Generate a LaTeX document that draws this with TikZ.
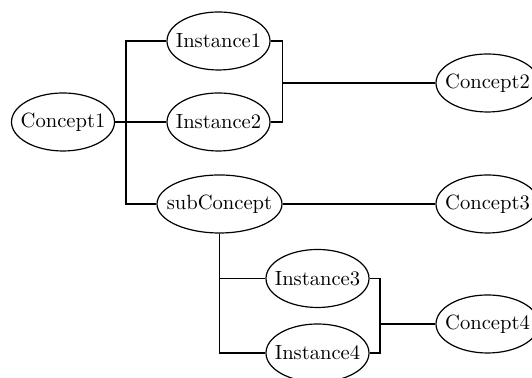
\documentclass[tikz,border=0pt]{standalone}
\usetikzlibrary{shapes.geometric}

\begin{document}
\begin{tikzpicture}[x=0.5pt, y=0.5pt, line width=0.6pt,
    onto/.style={draw, ellipse, inner sep=0pt, minimum width=51.5pt, minimum height=29pt,
      font=\fontsize{10.3}{12}\selectfont},
    wide/.style={onto, minimum width=62.5pt}]
  \useasboundingbox (0,0) rectangle (532,378);

  \node[onto] (c1) at (63, 256)      {\makebox[0pt]{Concept1}};
  \node[onto] (i1) at (218.5, 337)   {\makebox[0pt]{Instance1}};
  \node[onto] (i2) at (218.5, 256)   {\makebox[0pt]{Instance2}};
  \node[wide] (sc) at (219.5, 174)   {\makebox[0pt]{subConcept}};
  \node[onto] (c2) at (487.5, 295)   {\makebox[0pt]{Concept2}};
  \node[onto] (c3) at (487.5, 174)   {\makebox[0pt]{Concept3}};
  \node[onto] (i3) at (317.5, 99.5)  {\makebox[0pt]{Instance3}};
  \node[onto] (i4) at (317.5, 25)    {\makebox[0pt]{Instance4}};
  \node[onto] (c4) at (487.5, 54)    {\makebox[0pt]{Concept4}};

  \coordinate (j1) at (126, 256);
  \coordinate (j2) at (282.5, 295);
  \coordinate (j4) at (380, 54);

  % upper part
  \draw (c1) -- (j1);
  \draw (j1) |- (i1.west);
  \draw (j1) -- (i2);
  \draw (j1) |- (sc.west);
  \draw (i1.east) -| (j2);
  \draw (i2.east) -| (j2);
  \draw (j2) -- (c2);
  \draw (sc) -- (c3);
  % lower part
  \draw (sc.south) |- (i3.west);
  \draw (sc.south) |- (i4.west);
  \draw (i3.east) -| (j4);
  \draw (i4.east) -| (j4);
  \draw (j4) -- (c4);
\end{tikzpicture}
\end{document}
